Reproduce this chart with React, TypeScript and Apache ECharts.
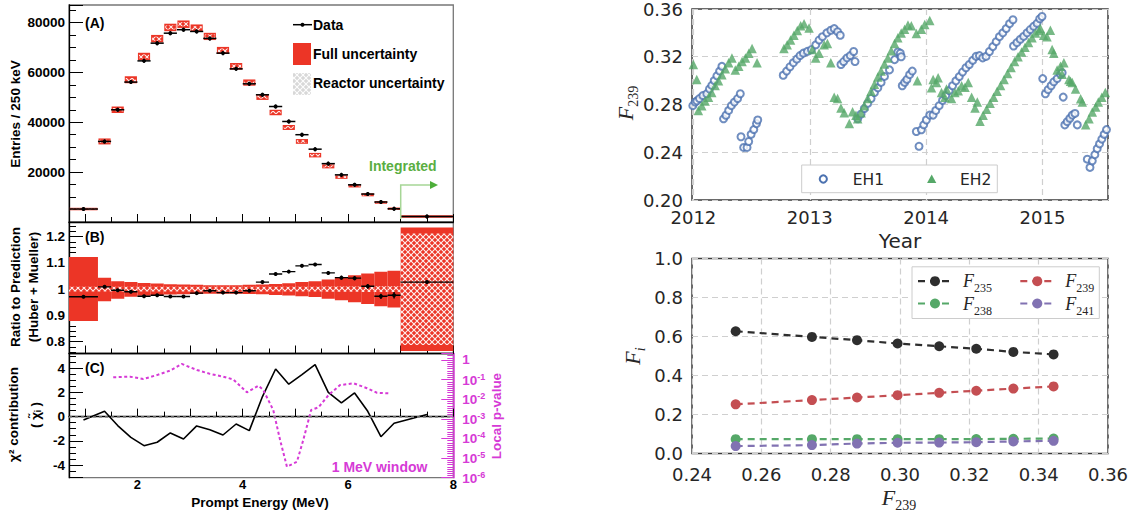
import React, { useEffect, useRef } from 'react';
import * as echarts from 'echarts';

// ---------------- Left figure: prompt energy spectrum ----------------
const binLo = [0.7, 1.25, 1.5, 1.75, 2.0, 2.25, 2.5, 2.75, 3.0, 3.25, 3.5, 3.75, 4.0, 4.25, 4.5, 4.75, 5.0, 5.25, 5.5, 5.75, 6.0, 6.25, 6.5, 6.75, 7.0];
const binHi = [1.25, 1.5, 1.75, 2.0, 2.25, 2.5, 2.75, 3.0, 3.25, 3.5, 3.75, 4.0, 4.25, 4.5, 4.75, 5.0, 5.25, 5.5, 5.75, 6.0, 6.25, 6.5, 6.75, 7.0, 8.0];
const entriesData = [5200, 32300, 45000, 56100, 64600, 71700, 75700, 77100, 76400, 73600, 67700, 61400, 55400, 51000, 46300, 40300, 35000, 29200, 23400, 18900, 14900, 11200, 8000, 5300, 2200];
const entriesPred = [5200, 32300, 45000, 57000, 66400, 73500, 78000, 79300, 77700, 74400, 68800, 62400, 55900, 50100, 43900, 37900, 32300, 26800, 22300, 18000, 14500, 10900, 7850, 5300, 2200];
const predFullErr = [500, 1200, 1300, 1400, 1450, 1500, 1500, 1500, 1500, 1450, 1400, 1350, 1250, 1150, 1100, 1000, 950, 900, 800, 700, 650, 600, 550, 450, 350];
const predReacErr = [250, 650, 700, 750, 800, 820, 820, 820, 820, 800, 760, 720, 680, 630, 600, 550, 520, 480, 430, 380, 350, 320, 290, 240, 180];

const ratio = [0.971, 1.009, 0.996, 0.99, 0.973, 0.977, 0.972, 0.972, 0.985, 0.994, 0.987, 0.987, 0.994, 1.027, 1.058, 1.067, 1.089, 1.094, 1.062, 1.044, 1.042, 1.011, 0.973, 0.977, 1.027];
const ratioErr = [0.003, 0.004, 0.004, 0.004, 0.004, 0.004, 0.004, 0.004, 0.004, 0.004, 0.004, 0.004, 0.004, 0.004, 0.005, 0.005, 0.005, 0.006, 0.006, 0.007, 0.008, 0.009, 0.01, 0.012, 0.006];
const fullHi = [1.123, 1.044, 1.03, 1.027, 1.024, 1.022, 1.019, 1.018, 1.017, 1.015, 1.015, 1.015, 1.017, 1.018, 1.02, 1.023, 1.027, 1.03, 1.037, 1.043, 1.053, 1.06, 1.066, 1.07, 1.235];
const fullLo = [0.879, 0.954, 0.964, 0.971, 0.975, 0.977, 0.98, 0.981, 0.982, 0.983, 0.983, 0.983, 0.982, 0.981, 0.978, 0.976, 0.973, 0.97, 0.964, 0.958, 0.95, 0.944, 0.935, 0.93, 0.765];
const reacHi = [1.009, 1.009, 1.009, 1.009, 1.009, 1.009, 1.009, 1.009, 1.009, 1.009, 1.009, 1.009, 1.009, 1.009, 1.009, 1.009, 1.009, 1.009, 1.01, 1.01, 1.01, 1.011, 1.011, 1.011, 1.212];
const reacLo = [0.991, 0.991, 0.991, 0.991, 0.991, 0.991, 0.991, 0.991, 0.991, 0.991, 0.991, 0.991, 0.991, 0.991, 0.991, 0.991, 0.991, 0.991, 0.99, 0.99, 0.99, 0.989, 0.989, 0.989, 0.787];

const chi2Contrib = [-0.28, 0.44, -0.74, -1.71, -2.4, -2.12, -1.35, -1.85, -0.77, -1.08, -1.52, -0.61, -1.16, 1.66, 3.94, 2.68, 3.48, 4.3, 2.01, 1.13, 1.96, 0.44, -1.66, -0.55, 0.17];

const windowE = [1.54, 1.86, 2.11, 2.37, 2.62, 2.84, 3.13, 3.38, 3.63, 3.82, 4.08, 4.3, 4.39, 4.58, 4.71, 4.84, 5.03, 5.15, 5.3, 5.44, 5.63, 5.85, 6.11, 6.36, 6.55, 6.77];
const windowLogP = [-0.88, -0.85, -0.97, -0.77, -0.54, -0.2, -0.51, -0.71, -0.85, -0.99, -1.65, -1.31, -1.53, -2.55, -4.08, -5.44, -5.19, -4.08, -2.55, -2.41, -1.79, -1.28, -1.19, -1.44, -1.67, -1.7];

// ---------------- Right top: F239 vs time ----------------
const eh1: number[][] = [
  [2011.986, 0.276], [2011.995, 0.279], [2012.015, 0.282], [2012.03, 0.283], [2012.052, 0.285], [2012.081, 0.2875], [2012.115, 0.289], [2012.138, 0.293], [2012.158, 0.296], [2012.179, 0.3], [2012.202, 0.304], [2012.225, 0.308], [2012.245, 0.312],
  [2012.259, 0.268], [2012.28, 0.271], [2012.303, 0.275], [2012.326, 0.279], [2012.352, 0.282], [2012.38, 0.285], [2012.403, 0.289],
  [2012.409, 0.253], [2012.432, 0.244], [2012.461, 0.244], [2012.475, 0.249], [2012.496, 0.255], [2012.519, 0.259], [2012.542, 0.264], [2012.553, 0.267],
  [2012.772, 0.3045], [2012.801, 0.308], [2012.83, 0.3116], [2012.859, 0.315], [2012.888, 0.318], [2012.916, 0.321], [2012.945, 0.323], [2012.98, 0.3245], [2013.014, 0.326], [2013.052, 0.33], [2013.08, 0.334], [2013.109, 0.3368], [2013.147, 0.34], [2013.181, 0.3422], [2013.21, 0.3436], [2013.239, 0.341], [2013.262, 0.338],
  [2013.268, 0.3135], [2013.291, 0.316], [2013.32, 0.319], [2013.348, 0.321], [2013.377, 0.3244], [2013.389, 0.316],
  [2013.412, 0.268], [2013.441, 0.272], [2013.469, 0.2766], [2013.498, 0.281], [2013.527, 0.285], [2013.556, 0.29], [2013.585, 0.294], [2013.613, 0.2985], [2013.642, 0.3035], [2013.685, 0.309], [2013.729, 0.3176], [2013.757, 0.324], [2013.778, 0.323], [2013.786, 0.32],
  [2013.795, 0.2957], [2013.815, 0.2985], [2013.835, 0.301], [2013.858, 0.305], [2013.881, 0.308],
  [2013.916, 0.2574], [2013.939, 0.245], [2013.959, 0.2588], [2013.979, 0.263], [2014.002, 0.267], [2014.031, 0.2711], [2014.06, 0.2711], [2014.083, 0.275], [2014.112, 0.279], [2014.141, 0.2834], [2014.169, 0.2875], [2014.198, 0.2916], [2014.227, 0.2957], [2014.256, 0.2998], [2014.285, 0.3034], [2014.313, 0.3072], [2014.342, 0.3108], [2014.371, 0.3135], [2014.4, 0.317], [2014.429, 0.3203], [2014.458, 0.321], [2014.486, 0.319], [2014.515, 0.3203], [2014.544, 0.3244], [2014.573, 0.3285], [2014.602, 0.3326], [2014.63, 0.3368], [2014.659, 0.34], [2014.688, 0.3436], [2014.717, 0.3477], [2014.746, 0.351],
  [2014.751, 0.329], [2014.78, 0.3318], [2014.809, 0.3346], [2014.838, 0.337], [2014.867, 0.34], [2014.895, 0.3428], [2014.924, 0.3455], [2014.953, 0.348], [2014.976, 0.3518], [2014.996, 0.3537],
  [2015.002, 0.3017], [2015.025, 0.289], [2015.048, 0.2924], [2015.074, 0.2957], [2015.097, 0.299], [2015.126, 0.3017], [2015.155, 0.3053], [2015.169, 0.3067], [2015.178, 0.2862],
  [2015.192, 0.2629], [2015.212, 0.2656], [2015.235, 0.2684], [2015.256, 0.2711], [2015.279, 0.2725], [2015.299, 0.2629],
  [2015.385, 0.2342], [2015.408, 0.2273], [2015.428, 0.2328], [2015.45, 0.238], [2015.47, 0.243], [2015.49, 0.247], [2015.51, 0.251], [2015.53, 0.255], [2015.55, 0.259]
];
const eh2: number[][] = [
  [2012.0, 0.3135], [2012.029, 0.301],
  [2012.043, 0.275], [2012.072, 0.279], [2012.101, 0.283], [2012.13, 0.286], [2012.158, 0.29], [2012.187, 0.296], [2012.216, 0.3], [2012.245, 0.305], [2012.274, 0.31], [2012.303, 0.315], [2012.331, 0.319],
  [2012.36, 0.309], [2012.39, 0.312], [2012.418, 0.316], [2012.447, 0.319], [2012.476, 0.323], [2012.504, 0.327], [2012.547, 0.315],
  [2012.778, 0.327], [2012.806, 0.33], [2012.835, 0.334], [2012.864, 0.338], [2012.893, 0.342], [2012.922, 0.346], [2012.951, 0.3477], [2012.994, 0.344],
  [2013.022, 0.326], [2013.051, 0.319], [2013.08, 0.323], [2013.124, 0.33], [2013.152, 0.331], [2013.181, 0.315],
  [2013.21, 0.286], [2013.239, 0.285], [2013.268, 0.277], [2013.296, 0.273], [2013.34, 0.264], [2013.368, 0.274], [2013.397, 0.271],
  [2013.412, 0.268], [2013.441, 0.273], [2013.469, 0.279], [2013.498, 0.285], [2013.527, 0.291], [2013.556, 0.297], [2013.585, 0.303], [2013.613, 0.308], [2013.642, 0.314], [2013.671, 0.319], [2013.7, 0.325], [2013.729, 0.331], [2013.757, 0.336], [2013.786, 0.34], [2013.815, 0.343], [2013.844, 0.3465], [2013.873, 0.346],
  [2013.916, 0.3395], [2013.925, 0.3], [2013.959, 0.343], [2013.988, 0.347], [2014.031, 0.3504],
  [2014.046, 0.294], [2014.06, 0.301], [2014.089, 0.2985], [2014.103, 0.3025], [2014.132, 0.29], [2014.161, 0.286], [2014.175, 0.293], [2014.218, 0.285], [2014.247, 0.29], [2014.276, 0.2916], [2014.305, 0.2957], [2014.334, 0.2944], [2014.362, 0.2985], [2014.391, 0.286], [2014.42, 0.277], [2014.44, 0.282],
  [2014.463, 0.266], [2014.49, 0.271], [2014.52, 0.276], [2014.55, 0.281], [2014.58, 0.286], [2014.61, 0.291], [2014.64, 0.296], [2014.67, 0.301], [2014.7, 0.306], [2014.73, 0.311], [2014.76, 0.316], [2014.79, 0.32], [2014.82, 0.324], [2014.85, 0.328], [2014.88, 0.332], [2014.91, 0.336], [2014.94, 0.34], [2014.97, 0.342],
  [2014.982, 0.3436], [2015.01, 0.338], [2015.039, 0.3368], [2015.068, 0.3422], [2015.083, 0.326], [2015.097, 0.323],
  [2015.126, 0.309], [2015.155, 0.312], [2015.169, 0.3053], [2015.184, 0.315],
  [2015.227, 0.301], [2015.241, 0.2995], [2015.256, 0.2985], [2015.284, 0.293],
  [2015.328, 0.2848], [2015.342, 0.282], [2015.371, 0.263], [2015.4, 0.268], [2015.428, 0.2738], [2015.457, 0.278], [2015.48, 0.282], [2015.51, 0.286], [2015.54, 0.29]
];

// ---------------- Right bottom: Fi vs F239 ----------------
const f239Axis = [0.2526, 0.2746, 0.2876, 0.2993, 0.3113, 0.322, 0.3327, 0.3443];
const fU235 = [0.627, 0.598, 0.581, 0.564, 0.55, 0.537, 0.521, 0.508];
const fPu239 = [0.252, 0.274, 0.287, 0.299, 0.311, 0.322, 0.333, 0.344];
const fU238 = [0.0735, 0.0735, 0.0735, 0.0735, 0.0735, 0.074, 0.075, 0.077];
const fPu241 = [0.038, 0.043, 0.051, 0.055, 0.056, 0.058, 0.062, 0.065];

const RED = '#ec3526';
const MAG = '#d63ad6';
const ROOTF = 'Liberation Sans';
const MPLF = 'DejaVu Sans';
const SERIF = 'Liberation Serif';
const BLUE = '#4C72B0';
const GREEN = '#55A868';

function makeHatch(bg: string | null, line: string) {
  const c = document.createElement('canvas');
  c.width = 6; c.height = 6;
  const ctx = c.getContext('2d')!;
  if (bg) { ctx.fillStyle = bg; ctx.fillRect(0, 0, 6, 6); }
  ctx.strokeStyle = line; ctx.lineWidth = 1.1;
  ctx.beginPath();
  ctx.moveTo(0, 0); ctx.lineTo(6, 6);
  ctx.moveTo(6, 0); ctx.lineTo(0, 6);
  ctx.stroke();
  return { image: c, repeat: 'repeat', imageWidth: 6, imageHeight: 6 } as any;
}

export default function App() {
  const ref = useRef<HTMLDivElement>(null);
  useEffect(() => {
    document.body.style.margin = '0';
    const chart = echarts.init(ref.current!, null, { renderer: 'svg' });
    const hatchWhite = makeHatch(null, 'rgba(255,255,255,0.92)');
    const hatchGray = makeHatch('#d8d8d8', 'rgba(255,255,255,0.95)');

    const rootAxisLabel = { fontFamily: ROOTF, fontWeight: 'bold', fontSize: 13.5, color: '#000' };
    const leftX = (idx: number, showLabel: boolean) => ({
      type: 'value', gridIndex: idx, min: 0.7, max: 8, splitNumber: 7,
      axisLine: { show: true, lineStyle: { color: '#000', width: 1.3 } },
      axisTick: { show: true, inside: true, length: 8, lineStyle: { color: '#000' } },
      minorTick: { show: true, splitNumber: 2, length: 5, lineStyle: { color: '#000' } },
      splitLine: { show: false },
      axisLabel: showLabel ? { ...rootAxisLabel, fontSize: 13, margin: 1, lineHeight: 12, formatter: (v: number) => ([2, 4, 6, 8].indexOf(v) >= 0 ? String(v) : '') } : { show: false },
    });
    const rootY = (idx: number, min: number, max: number, split: number, fmt: (v: number) => string, minorSplit: number) => ({
      type: 'value', gridIndex: idx, min, max, splitNumber: split,
      axisLine: { show: true, lineStyle: { color: '#000', width: 1.3 } },
      axisTick: { show: true, inside: true, length: 14, lineStyle: { color: '#000' } },
      minorTick: { show: true, splitNumber: minorSplit, length: 7, lineStyle: { color: '#000' } },
      splitLine: { show: false },
      axisLabel: { ...rootAxisLabel, margin: 4, formatter: fmt, showMinLabel: true, showMaxLabel: true },
    });
    const mplAxisLabel = { fontFamily: MPLF, fontSize: 18, color: '#262626' };
    const mplSplit = { show: true, lineStyle: { color: '#cfcfcf', type: [6, 4], width: 1.2 } };

    const boxesA = binLo.map((l, i) => [l, binHi[i], entriesPred[i], predFullErr[i], predReacErr[i]]);
    const pointsA = binLo.map((l, i) => [l, binHi[i], entriesData[i]]);
    const bandB = binLo.map((l, i) => [l, binHi[i], fullLo[i], fullHi[i], reacLo[i], reacHi[i]]);
    const pointsB = binLo.map((l, i) => [l, binHi[i], ratio[i], ratioErr[i]]);
    const chiLine = binLo.map((l, i) => [(l + binHi[i]) / 2, chi2Contrib[i]]);
    const pLine = windowE.map((e, i) => [e, windowLogP[i]]);

    const renderBoxA = (_p: any, api: any) => {
      const lo = api.value(0), hi = api.value(1), v = api.value(2), ef = api.value(3), er = api.value(4);
      const a = api.coord([lo, v + ef]); const b = api.coord([hi, v - ef]);
      const c = api.coord([lo, v + er]); const d = api.coord([hi, v - er]);
      const h = Math.max(b[1] - a[1], 2.5);
      const hr = Math.max(d[1] - c[1], 1.2);
      return {
        type: 'group', children: [
          { type: 'rect', shape: { x: a[0] + 0.5, y: (a[1] + b[1]) / 2 - h / 2, width: b[0] - a[0] - 1, height: h }, style: { fill: RED } },
          { type: 'rect', shape: { x: c[0] + 1.5, y: (c[1] + d[1]) / 2 - hr / 2, width: d[0] - c[0] - 3, height: hr }, style: { fill: hatchWhite } },
        ],
      };
    };
    const renderPointA = (_p: any, api: any) => {
      const a = api.coord([api.value(0), api.value(2)]);
      const b = api.coord([api.value(1), api.value(2)]);
      const m = (a[0] + b[0]) / 2;
      return {
        type: 'group', children: [
          { type: 'line', shape: { x1: a[0], y1: a[1], x2: b[0], y2: b[1] }, style: { stroke: '#000', lineWidth: 1.5 } },
          { type: 'line', shape: { x1: m, y1: a[1] - 2, x2: m, y2: a[1] + 2 }, style: { stroke: '#000', lineWidth: 1.5 } },
          { type: 'circle', shape: { cx: m, cy: a[1], r: 2 }, style: { fill: '#000' } },
        ],
      };
    };
    const renderBandB = (_p: any, api: any) => {
      const lo = api.value(0), hi = api.value(1);
      const a = api.coord([lo, api.value(3)]); const b = api.coord([hi, api.value(2)]);
      const c = api.coord([lo, api.value(5)]); const d = api.coord([hi, api.value(4)]);
      return {
        type: 'group', children: [
          { type: 'rect', shape: { x: a[0], y: a[1], width: b[0] - a[0], height: b[1] - a[1] }, style: { fill: RED } },
          { type: 'rect', shape: { x: c[0], y: c[1], width: d[0] - c[0], height: d[1] - c[1] }, style: { fill: hatchWhite } },
        ],
      };
    };
    const renderPointB = (_p: any, api: any) => {
      const v = api.value(2), e = api.value(3);
      const a = api.coord([api.value(0), v]);
      const b = api.coord([api.value(1), v]);
      const m = (a[0] + b[0]) / 2;
      const t = api.coord([0, v + e])[1], u = api.coord([0, v - e])[1];
      return {
        type: 'group', children: [
          { type: 'line', shape: { x1: a[0], y1: a[1], x2: b[0], y2: b[1] }, style: { stroke: '#000', lineWidth: 1.4 } },
          { type: 'line', shape: { x1: m, y1: t, x2: m, y2: u }, style: { stroke: '#000', lineWidth: 1.4 } },
          { type: 'circle', shape: { cx: m, cy: a[1], r: 2 }, style: { fill: '#000' } },
        ],
      };
    };

    const txt = (text: string, x: number, y: number, o: any = {}) => ({
      type: 'text', x, y, rotation: o.rotation || 0, z: 100,
      style: {
        text, fontFamily: o.fontFamily || ROOTF, fontWeight: o.fontWeight || 'bold', fontSize: o.fontSize || 14,
        fill: o.fill || '#000', align: o.align || 'left', verticalAlign: o.verticalAlign || 'middle', rich: o.rich,
        fontStyle: o.fontStyle || 'normal', lineHeight: o.lineHeight,
      },
    });
    const fRich = (fs: number, ss: number) => ({
      f: { fontFamily: SERIF, fontStyle: 'italic', fontSize: fs, fill: '#262626', verticalAlign: 'bottom', padding: [0, 0, 4, 0] },
      s: { fontFamily: SERIF, fontSize: ss, fill: '#262626', verticalAlign: 'bottom' },
      si: { fontFamily: SERIF, fontStyle: 'italic', fontSize: ss, fill: '#262626', verticalAlign: 'bottom' },
    });

    const fLegendItem = (x: number, y: number, color: string, sub: string) => ([
      { type: 'line', z: 101, shape: { x1: x - 17, y1: y, x2: x + 15, y2: y }, style: { stroke: color, lineWidth: 2.2, lineDash: [7, 5] } },
      { type: 'circle', z: 102, shape: { cx: x, cy: y, r: 5 }, style: { fill: color } },
      { type: 'text', z: 102, x: x + 28, y: y + 2, style: { text: '{f|F}{s|' + sub + '}', rich: fRich(18, 12), align: 'left', verticalAlign: 'middle' } },
    ]);

    const graphic: any[] = [
      // left figure texts
      txt('(A)', 85, 22.7),
      txt('(B)', 85, 236.7),
      txt('(C)', 85, 368.3),
      txt('Entries / 250 keV', 15, 114, { rotation: Math.PI / 2, align: 'center', fontSize: 13.5 }),
      txt('Ratio to Prediction', 15.5, 287, { rotation: Math.PI / 2, align: 'center', fontSize: 13.5 }),
      txt('(Huber + Mueller)', 33, 287, { rotation: Math.PI / 2, align: 'center', fontSize: 13.5 }),
      txt('χ² contribution', 13, 414.5, { rotation: Math.PI / 2, align: 'center', fontSize: 13.5 }),
      txt('( χ̃ᵢ )', 35, 415, { rotation: Math.PI / 2, align: 'center', fontSize: 13.5 }),
      txt('Local p-value', 496, 416, { rotation: Math.PI / 2, align: 'center', fontSize: 13.5, fill: MAG }),
      txt('Prompt Energy (MeV)', 260, 502, { align: 'center', fontSize: 13.5, lineHeight: 12 }),
      txt('1 MeV window', 331.7, 466.7, { fill: MAG, fontSize: 14 }),
      txt('Integrated', 369, 166, { fill: '#5aae42', fontSize: 14 }),
      { type: 'polyline', z: 100, shape: { points: [[400.7, 219], [400.7, 185], [430, 185]] }, style: { stroke: '#a6d696', lineWidth: 1.5, fill: null } },
      { type: 'polygon', z: 100, shape: { points: [[430, 181], [438, 185], [430, 189]] }, style: { fill: '#4dae3a' } },
      // legend A
      { type: 'line', z: 100, shape: { x1: 293, y1: 24.7, x2: 312, y2: 24.7 }, style: { stroke: '#000', lineWidth: 1.5 } },
      { type: 'circle', z: 100, shape: { cx: 302.5, cy: 24.7, r: 2 }, style: { fill: '#000' } },
      txt('Data', 313, 24.7),
      { type: 'rect', z: 100, shape: { x: 293, y: 43, width: 18, height: 22 }, style: { fill: RED } },
      txt('Full uncertainty', 313, 53.5),
      { type: 'rect', z: 100, shape: { x: 293, y: 73, width: 18, height: 22 }, style: { fill: hatchGray } },
      txt('Reactor uncertainty', 313, 82.5),
      // right top
      txt('Year', 900, 241, { fontFamily: MPLF, fontWeight: 'normal', fontSize: 20, fill: '#262626', align: 'center' }),
      { type: 'text', z: 100, x: 627, y: 103, rotation: Math.PI / 2, style: { text: '{f|F}{s|239}', rich: fRich(22, 14), align: 'center', verticalAlign: 'middle' } },
      { type: 'rect', z: 100, shape: { x: 801.7, y: 165, width: 195.6, height: 27.7 }, style: { fill: '#fff', stroke: '#cccccc', lineWidth: 1 } },
      { type: 'circle', z: 101, shape: { cx: 823.3, cy: 179, r: 3.6 }, style: { fill: '#fff', stroke: BLUE, lineWidth: 2 } },
      txt('EH1', 852.7, 179.5, { fontFamily: MPLF, fontWeight: 'normal', fontSize: 15.5, fill: '#262626' }),
      { type: 'polygon', z: 101, shape: { points: [[931.7, 174.5], [936.3, 183], [927.1, 183]] }, style: { fill: GREEN } },
      txt('EH2', 960, 179.5, { fontFamily: MPLF, fontWeight: 'normal', fontSize: 15.5, fill: '#262626' }),
      // right bottom
      { type: 'text', z: 100, x: 899, y: 499, style: { text: '{f|F}{s|239}', rich: fRich(22, 14), align: 'center', verticalAlign: 'middle' } },
      { type: 'text', z: 100, x: 634.5, y: 356, rotation: Math.PI / 2, style: { text: '{f|F}{si|i}', rich: fRich(22, 14), align: 'center', verticalAlign: 'middle' } },
      { type: 'rect', z: 100, shape: { x: 912, y: 266.8, width: 187.3, height: 51.7 }, style: { fill: '#fff', stroke: '#cccccc', lineWidth: 1 } },
      ...fLegendItem(935, 281.2, '#2e2e2e', '235'),
      ...fLegendItem(1037.3, 281.2, '#C44E52', '239'),
      ...fLegendItem(935, 303.5, GREEN, '238'),
      ...fLegendItem(1037.3, 303.5, '#8172B2', '241'),
    ];

    const option: any = {
      animation: false,
      backgroundColor: '#fff',
      grid: [
        { left: 69, top: 5, width: 384.3, height: 217, show: true, borderColor: '#777', borderWidth: 1.3 },
        { left: 69, top: 222, width: 384.3, height: 131.5, show: true, borderColor: '#777', borderWidth: 1.3 },
        { left: 69, top: 353.5, width: 384.3, height: 124.2, show: true, borderColor: '#777', borderWidth: 1.3 },
        { left: 692, top: 5, width: 416, height: 195, show: true, borderColor: '#3a3a3a', borderWidth: 1.5 },
        { left: 692, top: 258.5, width: 416, height: 195, show: true, borderColor: '#3a3a3a', borderWidth: 1.5 },
      ],
      xAxis: [
        leftX(0, false),
        leftX(1, false),
        leftX(2, true),
        {
          type: 'value', gridIndex: 3, min: 2011.988, max: 2015.563, splitNumber: 4,
          axisLine: { show: false }, axisTick: { show: false }, splitLine: mplSplit,
          axisLabel: { ...mplAxisLabel, margin: 8, showMinLabel: false, showMaxLabel: false, formatter: (v: number) => (Math.abs(v - Math.round(v)) < 1e-6 ? String(Math.round(v)) : '') },
        },
        {
          type: 'value', gridIndex: 4, min: 0.24, max: 0.36, interval: 0.02,
          axisLine: { show: false }, axisTick: { show: false }, splitLine: mplSplit,
          axisLabel: { ...mplAxisLabel, margin: 12, formatter: (v: number) => v.toFixed(2) },
        },
      ],
      yAxis: [
        rootY(0, 0, 87000, 4, (v: number) => (v > 0 && v % 20000 === 0 ? String(v) : ''), 4),
        rootY(1, 0.755, 1.256, 5, (v: number) => {
          const r = Math.round(v * 10) / 10;
          if (Math.abs(v - r) > 1e-6 || r < 0.8 || r > 1.2) return '';
          return r === 1 ? '1' : r.toFixed(1);
        }, 5),
        rootY(2, -5.05, 5.22, 5, (v: number) => {
          const r = Math.round(v);
          return Math.abs(v - r) < 1e-6 && r % 2 === 0 && Math.abs(r) <= 4 ? String(r) : '';
        }, 4),
        {
          type: 'value', gridIndex: 2, position: 'right', min: -6, max: 0.33, interval: 1,
          axisLine: { show: true, lineStyle: { color: MAG, width: 1.5 } },
          axisTick: { show: true, inside: true, length: 12, lineStyle: { color: MAG } },
          minorTick: { show: true, splitNumber: 9, length: 6, lineStyle: { color: MAG } },
          splitLine: { show: false },
          axisLabel: {
            fontFamily: ROOTF, fontWeight: 'bold', fontSize: 13.5, color: MAG, margin: 9,
            formatter: (v: number) => (v > 0.01 ? '' : v === 0 ? '1' : '{b|10}{sup|' + Math.round(v) + '}'),
            rich: {
              b: { fontFamily: ROOTF, fontWeight: 'bold', fontSize: 13.5, color: MAG, verticalAlign: 'bottom' },
              sup: { fontFamily: ROOTF, fontWeight: 'bold', fontSize: 9, color: MAG, verticalAlign: 'bottom', padding: [0, 0, 6, 0] },
            },
          },
        },
        {
          type: 'value', gridIndex: 3, min: 0.2, max: 0.36, interval: 0.04,
          axisLine: { show: false }, axisTick: { show: false }, splitLine: mplSplit,
          axisLabel: { ...mplAxisLabel, margin: 9, formatter: (v: number) => v.toFixed(2) },
        },
        {
          type: 'value', gridIndex: 4, min: 0, max: 1, interval: 0.2,
          axisLine: { show: false }, axisTick: { show: false }, splitLine: mplSplit,
          axisLabel: { ...mplAxisLabel, margin: 9, formatter: (v: number) => v.toFixed(1) },
        },
      ],
      graphic,
      series: [
        { type: 'custom', name: 'Full uncertainty', xAxisIndex: 0, yAxisIndex: 0, data: boxesA, encode: { x: [0, 1], y: 2 }, renderItem: renderBoxA, clip: true, z: 2 },
        { type: 'custom', name: 'Data', xAxisIndex: 0, yAxisIndex: 0, data: pointsA, encode: { x: [0, 1], y: 2 }, renderItem: renderPointA, clip: true, z: 3 },
        { type: 'custom', name: 'Band B', xAxisIndex: 1, yAxisIndex: 1, data: bandB, encode: { x: [0, 1], y: [2, 3] }, renderItem: renderBandB, clip: true, z: 2 },
        { type: 'custom', name: 'Ratio', xAxisIndex: 1, yAxisIndex: 1, data: pointsB, encode: { x: [0, 1], y: 2 }, renderItem: renderPointB, clip: true, z: 3 },
        {
          type: 'line', name: 'chi2', xAxisIndex: 2, yAxisIndex: 2, data: chiLine, symbol: 'none',
          lineStyle: { color: '#000', width: 1.6 }, z: 3,
          markLine: { silent: true, symbol: ['none', 'none'], label: { show: false }, lineStyle: { color: '#888', type: [3, 3], width: 1.5 }, data: [{ yAxis: 0 }] },
        },
        { type: 'line', name: 'p-value', xAxisIndex: 2, yAxisIndex: 3, data: pLine, symbol: 'none', lineStyle: { color: MAG, width: 2, type: [3, 2.5] }, z: 3 },
        { type: 'scatter', name: 'EH1', xAxisIndex: 3, yAxisIndex: 4, data: eh1, symbol: 'circle', symbolSize: 7, itemStyle: { color: '#fff', borderColor: BLUE, borderWidth: 2 }, clip: true, z: 3 },
        { type: 'scatter', name: 'EH2', xAxisIndex: 3, yAxisIndex: 4, data: eh2, symbol: 'triangle', symbolSize: 9.5, itemStyle: { color: GREEN }, clip: true, z: 4 },
        { type: 'line', name: 'F235', xAxisIndex: 4, yAxisIndex: 5, data: f239Axis.map((x, i) => [x, fU235[i]]), symbol: 'circle', symbolSize: 10, itemStyle: { color: '#2e2e2e' }, lineStyle: { color: '#2e2e2e', width: 2.2, type: [7, 5] } },
        { type: 'line', name: 'F239', xAxisIndex: 4, yAxisIndex: 5, data: f239Axis.map((x, i) => [x, fPu239[i]]), symbol: 'circle', symbolSize: 10, itemStyle: { color: '#C44E52' }, lineStyle: { color: '#C44E52', width: 2.2, type: [7, 5] } },
        { type: 'line', name: 'F238', xAxisIndex: 4, yAxisIndex: 5, data: f239Axis.map((x, i) => [x, fU238[i]]), symbol: 'circle', symbolSize: 10, itemStyle: { color: GREEN }, lineStyle: { color: GREEN, width: 2.2, type: [7, 5] } },
        { type: 'line', name: 'F241', xAxisIndex: 4, yAxisIndex: 5, data: f239Axis.map((x, i) => [x, fPu241[i]]), symbol: 'circle', symbolSize: 10, itemStyle: { color: '#8172B2' }, lineStyle: { color: '#8172B2', width: 2.2, type: [7, 5] } },
      ],
    };
    chart.setOption(option);
    return () => chart.dispose();
  }, []);
  return <div ref={ref} style={{ width: 1139, height: 516 }} />;
}
